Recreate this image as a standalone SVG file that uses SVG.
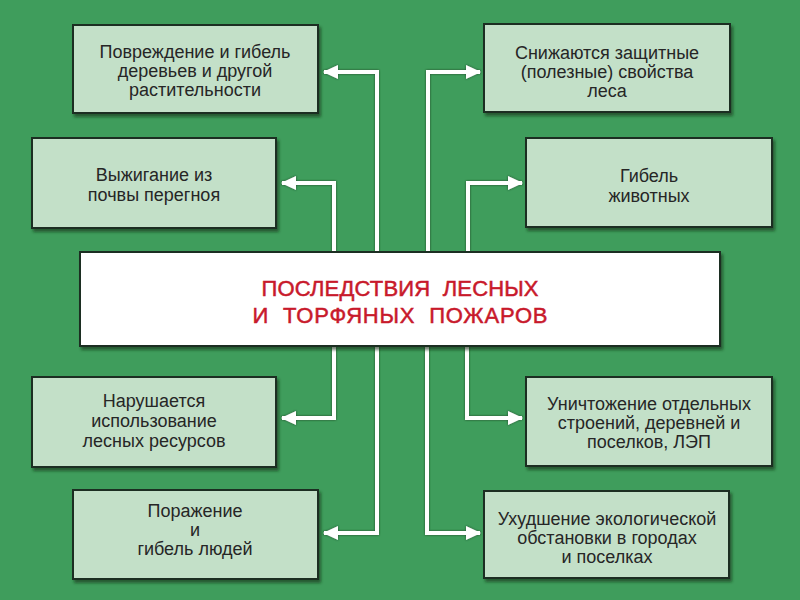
<svg xmlns="http://www.w3.org/2000/svg" width="800" height="600" viewBox="0 0 800 600">
<defs>
<filter id="sh" x="-10%" y="-10%" width="120%" height="130%">
<feDropShadow dx="2" dy="3" stdDeviation="1.5" flood-color="#0a2a14" flood-opacity="0.6"/>
</filter>
<filter id="lsh" x="-20%" y="-20%" width="140%" height="140%">
<feDropShadow dx="0" dy="0" stdDeviation="0.8" flood-color="#1a3a22" flood-opacity="0.9"/>
</filter>
<marker id="ah" markerUnits="userSpaceOnUse" markerWidth="16" markerHeight="16" viewBox="0 0 16 16" refX="14" refY="8" orient="auto">
<path d="M0,1 L15,8 L0,15 Z" fill="#ffffff"/>
</marker>
</defs>
<style>
.box{fill:#c3e0c8;stroke:#1e2e22;stroke-width:2;filter:url(#sh)}
.main{fill:#ffffff;stroke:#1e2e22;stroke-width:2;filter:url(#sh)}
.t{font-family:"Liberation Sans",Arial,sans-serif;font-size:18px;fill:#262626;text-anchor:middle}
.title{font-family:"Liberation Sans",Arial,sans-serif;font-size:22px;fill:#c8192b;stroke:#c8192b;stroke-width:0.5;text-anchor:middle}
.c{fill:none;stroke:#ffffff;stroke-width:4;stroke-linejoin:miter;marker-end:url(#ah)}
</style>
<rect width="800" height="600" fill="#3f9d5c"/>
<g id="connectors" filter="url(#lsh)">
<path class="c" d="M377,252 V72 H324"/>
<path class="c" d="M428,252 V72 H480"/>
<path class="c" d="M334,252 V183 H282"/>
<path class="c" d="M468,252 V183 H522"/>
<path class="c" d="M334,345 V418 H282"/>
<path class="c" d="M467,345 V418 H522"/>
<path class="c" d="M377,345 V533 H324"/>
<path class="c" d="M427,345 V533 H480"/>
</g>
<g id="center">
<rect class="main" x="80" y="252" width="640" height="94"/>
<text class="title" xml:space="preserve" x="400" y="296" textLength="277" lengthAdjust="spacing">ПОСЛЕДСТВИЯ  ЛЕСНЫХ</text>
<text class="title" xml:space="preserve" x="400" y="323" textLength="295" lengthAdjust="spacing">И  ТОРФЯНЫХ  ПОЖАРОВ</text>
</g>
<g id="n1">
<rect class="box" x="73" y="25" width="245" height="88"/>
<text class="t" x="195" y="58">Повреждение и гибель</text>
<text class="t" x="195" y="77">деревьев и другой</text>
<text class="t" x="195" y="96">растительности</text>
</g>
<g id="n2">
<rect class="box" x="484" y="24" width="246" height="88"/>
<text class="t" x="607" y="59">Снижаются защитные</text>
<text class="t" x="607" y="78">(полезные) свойства</text>
<text class="t" x="607" y="97">леса</text>
</g>
<g id="n3">
<rect class="box" x="32" y="138" width="244" height="90"/>
<text class="t" x="154" y="181">Выжигание из</text>
<text class="t" x="154" y="201">почвы перегноя</text>
</g>
<g id="n4">
<rect class="box" x="526" y="138" width="246" height="89"/>
<text class="t" x="649" y="182">Гибель</text>
<text class="t" x="649" y="202">животных</text>
</g>
<g id="n5">
<rect class="box" x="32" y="377" width="244" height="90"/>
<text class="t" x="154" y="407">Нарушается</text>
<text class="t" x="154" y="427">использование</text>
<text class="t" x="154" y="447">лесных ресурсов</text>
</g>
<g id="n6">
<rect class="box" x="526" y="377" width="246" height="89"/>
<text class="t" x="649" y="410">Уничтожение отдельных</text>
<text class="t" x="649" y="429">строений, деревней и</text>
<text class="t" x="649" y="448">поселков, ЛЭП</text>
</g>
<g id="n7">
<rect class="box" x="73" y="490" width="245" height="89"/>
<text class="t" x="195" y="517">Поражение</text>
<text class="t" x="195" y="536">и</text>
<text class="t" x="195" y="555">гибель людей</text>
</g>
<g id="n8">
<rect class="box" x="484" y="491" width="245" height="87"/>
<text class="t" x="607" y="525">Ухудшение экологической</text>
<text class="t" x="607" y="544">обстановки в городах</text>
<text class="t" x="607" y="563">и поселках</text>
</g>
</svg>
